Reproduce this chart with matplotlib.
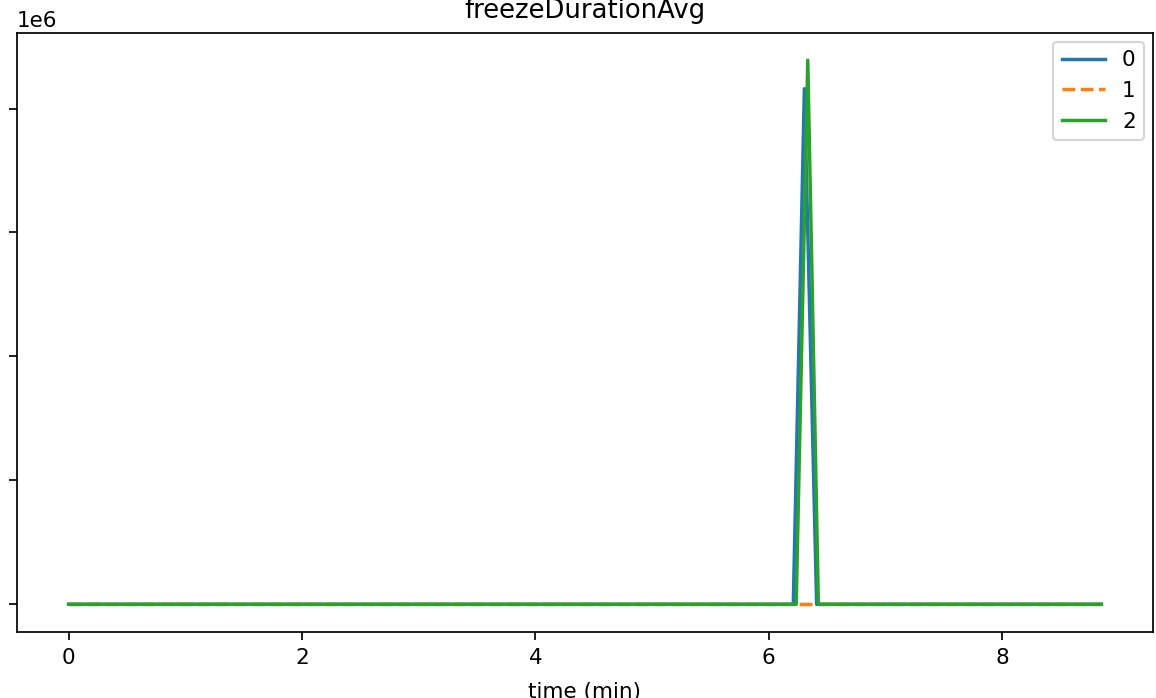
import matplotlib
matplotlib.use('Agg')
import matplotlib.pyplot as plt

# Dane (czas w minutach, wartości w jednostkach surowych)
t0 = [0.0, 6.21, 6.305, 6.41, 8.85]
v0 = [0.0, 0.0, 4.16e6, 0.0, 0.0]

t1 = [0.0, 8.85]
v1 = [0.0, 0.0]

t2 = [0.0, 6.235, 6.334, 6.425, 8.85]
v2 = [0.0, 0.0, 4.39e6, 0.0, 0.0]

labels = ['0', '1', '2']

dpi = 155
fig = plt.figure(figsize=(1156 / dpi, 698 / dpi), dpi=dpi)
# osie rozciągnięte prawie do krawędzi (etykiety osi Y wypadają poza obraz)
ax = fig.add_axes([17 / 1156, (698 - 631.5) / 698, (1153 - 17) / 1156, (631.5 - 33) / 698])

ax.plot(t0, v0, label=labels[0], linewidth=1.6)
ax.plot(t1, v1, linestyle='--', label=labels[1], linewidth=1.6)
ax.plot(t2, v2, label=labels[2], linewidth=1.6)

ax.set_title('freezeDurationAvg', pad=7)
ax.set_xlabel('time (min)', labelpad=6.5)
ax.tick_params(axis='y', pad=20)
ax.tick_params(axis='x', pad=4)
ax.legend(loc='upper right', borderaxespad=0.4)

fig.savefig('out.png', dpi=dpi)
